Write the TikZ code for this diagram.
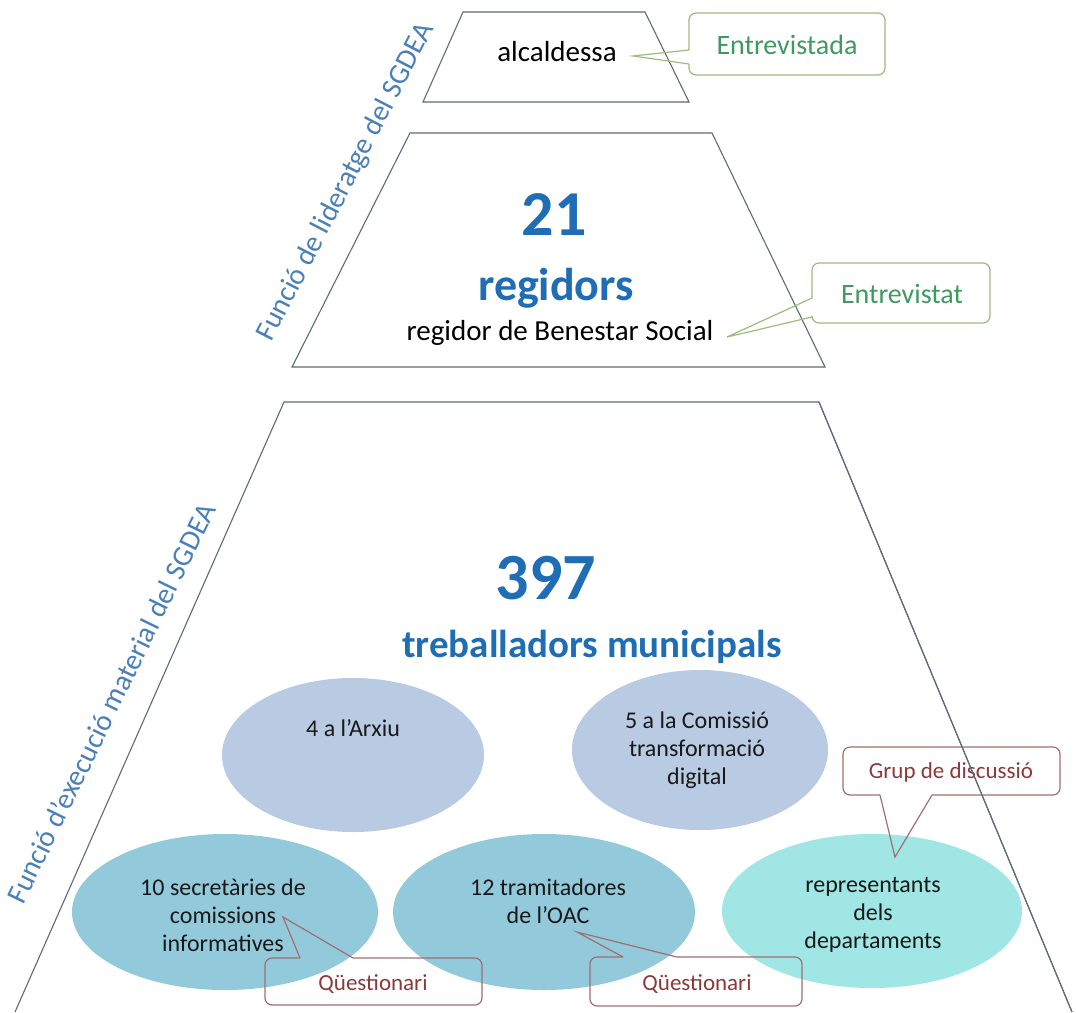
\documentclass[tikz,border=0pt]{standalone}
\usepackage{fontspec}
\setmainfont{Carlito}
\usetikzlibrary{shapes.geometric}
\definecolor{edgec}{HTML}{5B6B7B}
\definecolor{labblue}{HTML}{4A80B8}
\definecolor{bigblue}{HTML}{1F6DB5}
\definecolor{greenT}{HTML}{3F9A5F}
\definecolor{greenB}{HTML}{9DBB7E}
\definecolor{redT}{HTML}{8B3A3A}
\definecolor{redB}{HTML}{A07070}
\definecolor{ellA}{HTML}{B9CAE3}
\definecolor{ellB}{HTML}{92CADB}
\definecolor{ellC}{HTML}{A0E6E4}
\newcommand\fsz[2]{\fontsize{#1}{#2}\selectfont}
\begin{document}
\begin{tikzpicture}[x=1pt,y=-1pt,
  trap/.style={draw=edgec,line width=1.1pt,line join=miter},
  ellnode/.style={ellipse,inner sep=0pt,draw=none},
  etext/.style={align=center,text=black!90,font=\fsz{24}{28}},
  sidelab/.style={text=labblue,font=\fsz{29}{32}},
  callG/.style={draw=greenB,line width=1.2pt,rounded corners=7pt},
  callGp/.style={draw=greenB,line width=1.2pt},
  callR/.style={draw=redB,line width=1.2pt,rounded corners=7pt},
  callRp/.style={draw=redB,line width=1.2pt},
  ctextG/.style={text=greenT,font=\fsz{28}{32}},
  ctextR/.style={text=redT,font=\fsz{23}{26}}]
\useasboundingbox (0,0) rectangle (1076,1012);
\fill[white] (0,0) rectangle (1076,1012);

% trapezoids
\draw[trap] (463,12) -- (645,12) -- (689,102) -- (423,102) -- cycle;
\draw[trap] (410,133) -- (712,133) -- (825,367) -- (292,367) -- cycle;
\draw[trap] (15,1012) -- (284,402) -- (819,402) -- (1072,1012);

% side labels
\node[sidelab,rotate=62.7] (lid) at (346,182) {Funció de lideratge del SGDEA};
\node[sidelab,rotate=64] (exe) at (111,703) {Funció d’execució material del SGDEA};

% level texts
\node[font=\fsz{29}{32},text=black] (alc) at (557,52) {alcaldessa};
\node[font=\fsz{64}{70}\bfseries,text=bigblue] (n21) at (554,215) {21};
\node[font=\fsz{46}{50}\bfseries,text=bigblue] (reg) at (556,288) {regidors};
\node[font=\fsz{29}{32},text=black] (regb) at (560,333) {regidor de Benestar Social};
\node[font=\fsz{66}{70}\bfseries,text=bigblue] (n397) at (546,578) {397};
\node[font=\fsz{39}{44}\bfseries,text=bigblue] (treb) at (592,647) {treballadors municipals};

% ellipses
\node[ellnode,fill=ellA,minimum width=262pt,minimum height=154pt] (e1) at (353,755) {};
\node[ellnode,fill=ellA,minimum width=256pt,minimum height=160pt] (e2) at (700,750) {};
\node[ellnode,fill=ellB,minimum width=306pt,minimum height=156pt] (e3) at (225,912) {};
\node[ellnode,fill=ellB,minimum width=302pt,minimum height=156pt] (e4) at (544,912) {};
\node[ellnode,fill=ellC,minimum width=300pt,minimum height=154pt] (e5) at (872,911) {};

\node[etext] (t1) at (353,728) {4 a l’Arxiu};
\node[etext] (t2) at (697,750) {5 a la Comissió\\transformació\\digital};
\node[etext] (t3) at (223,915) {10 secretàries de\\comissions\\informatives};
\node[etext] (t4) at (548,901) {12 tramitadores\\de l’OAC};
\node[etext] (t5) at (873,915) {representants\\dels\\departaments};

% callouts
\coordinate (pA) at (633,56);
\draw[callG] (689,50) -- (689,13) -- (885,13) -- (885,75) -- (689,75) -- (689,64);
\draw[callGp] (689,64) -- (pA) -- (689,50);
\node[ctextG] (cA) at (787,45) {Entrevistada};

\coordinate (pB) at (727,337);
\draw[callG] (812,298) -- (812,263) -- (990,263) -- (990,323) -- (812,323) -- (812,317);
\draw[callGp] (812,317) -- (pB) -- (812,298);
\node[ctextG] (cB) at (902,294) {Entrevistat};

\coordinate (pC) at (283,917);
\draw[callR] (353,958) -- (482,958) -- (482,1005) -- (265,1005) -- (265,958) -- (300,958);
\draw[callRp] (300,958) -- (pC) -- (353,958);
\node[ctextR] (cC) at (373,984) {Qüestionari};

\coordinate (pD) at (577,932);
\draw[callR] (677,957) -- (802,957) -- (802,1006) -- (590,1006) -- (590,957) -- (623,957);
\draw[callRp] (623,957) -- (pD) -- (677,957);
\node[ctextR] (cD) at (697,984) {Qüestionari};

\coordinate (pE) at (895,857);
\draw[callR] (932,795) -- (1060,795) -- (1060,747) -- (843,747) -- (843,795) -- (880,795);
\draw[callRp] (880,795) -- (pE) -- (932,795);
\node[ctextR] (cE) at (951,772) {Grup de discussió};

% bottom trapezoid right edge drawn over the callout
\draw[trap] (819,402) -- (1072,1012);
\end{tikzpicture}
\end{document}
